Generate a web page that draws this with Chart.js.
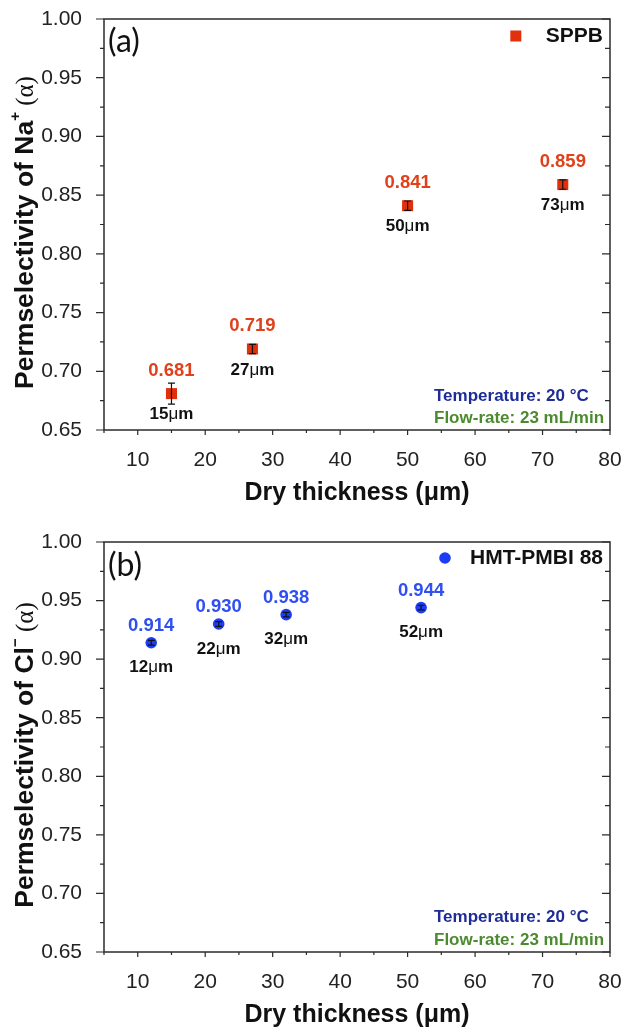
<!DOCTYPE html>
<html>
<head>
<meta charset="utf-8">
<script src="https://cdn.jsdelivr.net/npm/chart.js@4.4.1/dist/chart.umd.min.js"></script>
<style>
  html, body { margin: 0; padding: 0; background: #fff; }
  .panel { position: relative; width: 624px; height: 515px; }
  canvas { display: block; }
</style>
</head>
<body>
<div class="panel"><canvas id="chartA" width="624" height="515"></canvas></div>
<div class="panel"><canvas id="chartB" width="624" height="515"></canvas></div>
<script>
// Panel (a): SPPB, Na+ permselectivity vs dry membrane thickness
const thicknessA = [15, 27, 50, 73];
const alphaA = [0.681, 0.719, 0.841, 0.859];
const errorA = [0.009, 0.004, 0.004, 0.004];

// Panel (b): HMT-PMBI 88, Cl- permselectivity vs dry membrane thickness
const thicknessB = [12, 22, 32, 52];
const alphaB = [0.914, 0.930, 0.938, 0.944];
const errorB = [0.002, 0.002, 0.002, 0.002];

// Axis ticks
const xTicks = [10, 20, 30, 40, 50, 60, 70, 80];
const xMinorTicks = [5, 15, 25, 35, 45, 55, 65, 75];
const yTicks = [0.65, 0.70, 0.75, 0.80, 0.85, 0.90, 0.95, 1.00];
const yMinorTicks = [0.675, 0.725, 0.775, 0.825, 0.875, 0.925, 0.975];

const SANS = '"Liberation Sans", Arial, sans-serif';
const SERIF = '"Liberation Serif", "Times New Roman", serif';
const AXIS_COLOR = '#2b2b2b';

function richText(ctx, parts, x, y, align) {
  let total = 0;
  parts.forEach(p => { ctx.font = p.font; p.w = ctx.measureText(p.text).width; total += p.w; });
  let cx = align === 'center' ? x - total / 2 : align === 'right' ? x - total : x;
  ctx.textAlign = 'left';
  ctx.textBaseline = 'middle';
  parts.forEach(p => {
    ctx.font = p.font;
    ctx.fillStyle = p.color || '#111';
    ctx.fillText(p.text, cx, y + (p.dy || 0));
    cx += p.w;
  });
}

// Draws frame, ticks, error bars, annotations and legend for one panel
const panelPlugin = {
  id: 'panel',
  afterDatasetsDraw(chart, args, o) {
    const { ctx, chartArea: a, scales: { x, y } } = chart;
    const ds = chart.data.datasets[0];
    ctx.save();

    // error bars
    ctx.strokeStyle = '#111';
    ctx.lineWidth = 1.2;
    ds.data.forEach((p, i) => {
      const px = x.getPixelForValue(p.x);
      const top = y.getPixelForValue(p.y + o.errors[i]);
      const bot = y.getPixelForValue(p.y - o.errors[i]);
      ctx.beginPath();
      ctx.moveTo(px, top); ctx.lineTo(px, bot);
      ctx.moveTo(px - 3.5, top); ctx.lineTo(px + 3.5, top);
      ctx.moveTo(px - 3.5, bot); ctx.lineTo(px + 3.5, bot);
      ctx.stroke();
    });

    // frame
    ctx.strokeStyle = AXIS_COLOR;
    ctx.lineWidth = 1.5;
    ctx.strokeRect(a.left, a.top, a.right - a.left, a.bottom - a.top);

    // ticks
    ctx.lineWidth = 1.2;
    ctx.beginPath();
    yTicks.forEach(v => {
      const py = y.getPixelForValue(v);
      ctx.moveTo(a.left - 8, py); ctx.lineTo(a.left, py);
      ctx.moveTo(a.right - 8, py); ctx.lineTo(a.right, py);
    });
    yMinorTicks.forEach(v => {
      const py = y.getPixelForValue(v);
      ctx.moveTo(a.left - 4, py); ctx.lineTo(a.left, py);
      ctx.moveTo(a.right - 5, py); ctx.lineTo(a.right, py);
    });
    xTicks.forEach(v => {
      const px = x.getPixelForValue(v);
      ctx.moveTo(px, a.bottom); ctx.lineTo(px, a.bottom + 5);
    });
    xMinorTicks.forEach(v => {
      const px = x.getPixelForValue(v);
      ctx.moveTo(px, a.bottom); ctx.lineTo(px, a.bottom + 3);
    });
    ctx.stroke();

    // point annotations: value above, thickness below
    ds.data.forEach(p => {
      const px = x.getPixelForValue(p.x);
      const py = y.getPixelForValue(p.y);
      ctx.font = 'bold 18.5px ' + SANS;
      ctx.fillStyle = o.valueColor;
      ctx.textAlign = 'center';
      ctx.textBaseline = 'middle';
      ctx.fillText(p.y.toFixed(3), px, py - o.above);
      richText(ctx, [
        { text: String(p.x), font: 'bold 17px ' + SANS },
        { text: 'μ', font: '17px ' + SANS },
        { text: 'm', font: 'bold 17px ' + SANS }
      ], px, py + o.below, 'center');
    });

    // panel letter
    ctx.font = '32px Lato, "Open Sans", sans-serif';
    ctx.fillStyle = '#111';
    ctx.textAlign = 'left';
    ctx.textBaseline = 'middle';
    ctx.fillText(o.letter, a.left + 4, a.top + o.letterDy);

    // legend
    ctx.font = 'bold 21px ' + SANS;
    ctx.textAlign = 'right';
    ctx.fillStyle = '#111';
    const ly = a.top + o.legendDy;
    ctx.fillText(ds.label, a.right - 7, ly);
    const lw = ctx.measureText(ds.label).width;
    const mx = a.right - 7 - lw - o.legendGap;
    ctx.fillStyle = ds.backgroundColor;
    if (ds.pointStyle === 'rect') {
      ctx.fillRect(mx - 5.5, ly - 5.5, 11, 11);
    } else {
      ctx.beginPath(); ctx.arc(mx, ly, 5.8, 0, Math.PI * 2); ctx.fill();
    }

    // test conditions
    ctx.font = 'bold 17px ' + SANS;
    ctx.textAlign = 'left';
    ctx.fillStyle = '#1e2c96';
    ctx.fillText('Temperature: 20 °C', a.right - 176, a.bottom - o.tempDy);
    ctx.fillStyle = '#4b8b2e';
    ctx.fillText('Flow-rate: 23 mL/min', a.right - 176, a.bottom - 12);

    // axis titles
    richText(ctx, [
      { text: 'Dry thickness (', font: 'bold 25px ' + SANS },
      { text: 'μ', font: 'bold 25px ' + SANS },
      { text: 'm)', font: 'bold 25px ' + SANS }
    ], (a.left + a.right) / 2, a.bottom + 63, 'center');

    ctx.translate(26, (a.top + a.bottom) / 2 + 8);
    ctx.rotate(-Math.PI / 2);
    richText(ctx, [
      { text: 'Permselectivity of ' + o.ion, font: 'bold 26.5px ' + SANS },
      { text: o.charge, font: 'bold 15px ' + SANS, dy: -10 },
      { text: ' (α)', font: '25px ' + SERIF }
    ], 0, 0, 'center');

    ctx.restore();
  }
};

function makeChart(id, cfg) {
  return new Chart(document.getElementById(id), {
    type: 'scatter',
    data: {
      datasets: [{
        label: cfg.name,
        data: cfg.xs.map((v, i) => ({ x: v, y: cfg.ys[i] })),
        pointStyle: cfg.style,
        pointRadius: cfg.radius,
        pointHoverRadius: cfg.radius,
        backgroundColor: cfg.color,
        borderColor: cfg.color,
        borderWidth: 0,
        showLine: false
      }]
    },
    options: {
      responsive: false,
      animation: false,
      layout: { padding: { top: cfg.padTop, right: 14, bottom: 0, left: 0 } },
      plugins: {
        legend: { display: false },
        tooltip: { enabled: false },
        panel: cfg.panel
      },
      scales: {
        x: {
          type: 'linear',
          min: 5, max: 80,
          afterBuildTicks: s => { s.ticks = xTicks.map(v => ({ value: v })); },
          afterFit: s => { s.height = cfg.xAxisHeight; s.paddingLeft = 0; s.paddingRight = 0; },
          grid: { display: false },
          border: { display: false },
          ticks: { padding: 10, color: '#222', font: { family: SANS, size: 21 }, callback: v => String(v) }
        },
        y: {
          type: 'linear',
          min: 0.65, max: 1.0,
          afterBuildTicks: s => { s.ticks = yTicks.map(v => ({ value: v })); },
          afterFit: s => { s.width = 104; s.paddingTop = 0; s.paddingBottom = 0; },
          grid: { display: false },
          border: { display: false },
          ticks: { padding: 14, color: '#222', font: { family: SANS, size: 21 }, callback: v => v.toFixed(2) }
        }
      }
    },
    plugins: [panelPlugin]
  });
}

makeChart('chartA', {
  name: 'SPPB', xs: thicknessA, ys: alphaA, style: 'rect', radius: 7.8, color: '#e0300c',
  padTop: 19, xAxisHeight: 85,
  panel: { errors: errorA, valueColor: '#e0401a', above: 23, below: 21, letter: '(a)', letterDy: 23,
           legendDy: 17, legendGap: 30, tempDy: 34, ion: 'Na', charge: '+' }
});

makeChart('chartB', {
  name: 'HMT-PMBI 88', xs: thicknessB, ys: alphaB, style: 'circle', radius: 5.8, color: '#1d3df5',
  padTop: 27, xAxisHeight: 78,
  panel: { errors: errorB, valueColor: '#2f4ff2', above: 17, below: 25, letter: '(b)', letterDy: 24,
           legendDy: 16, legendGap: 25, tempDy: 35, ion: 'Cl', charge: '−' }
});
</script>
</body>
</html>
